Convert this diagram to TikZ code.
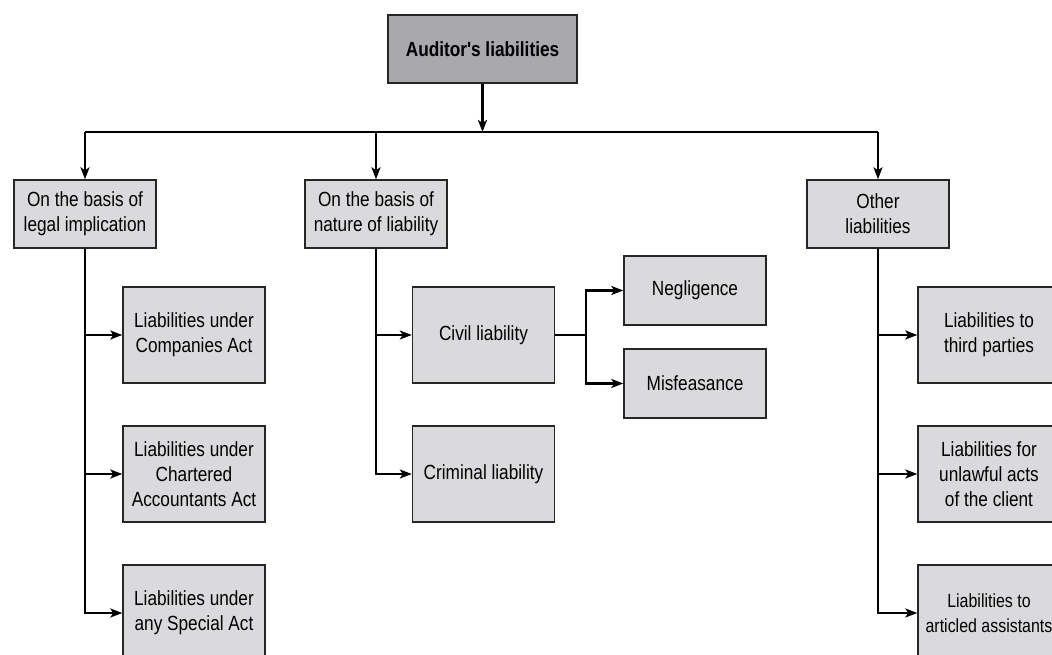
\documentclass[tikz,border=0pt]{standalone}
\usepackage{fontspec}
\usetikzlibrary{arrows.meta}
\newfontfamily\condfont[FakeStretch=0.84]{Liberation Sans}
\definecolor{boxgray}{RGB}{218,218,221}
\definecolor{topgray}{RGB}{168,168,173}
\tikzset{
  box/.style={draw=black!85, line width=1.4pt, fill=boxgray, align=center,
    minimum width=142pt, minimum height=96pt, inner sep=1pt,
    font=\condfont\fontsize{20.5}{25}\selectfont},
  headbox/.style={box, minimum height=68pt},
  link/.style={line width=2.6pt, black},
  arr/.style={link, -{Stealth[length=12pt,width=9pt,inset=3pt]}}
}
\begin{document}
\begin{tikzpicture}[x=1pt,y=1pt]
\clip (0,0) rectangle (1052,655);
\useasboundingbox (0,0) rectangle (1052,655);
% top
\node[headbox, fill=topgray, minimum width=189pt, font=\condfont\bfseries\fontsize{20.5}{25}\selectfont] (auditor) at (482.5,606) {Auditor's liabilities};
\coordinate (bus) at (482.5,523);
% first level
\node[headbox] (legal) at (85,441) {On the basis of\\legal implication};
\node[headbox] (nature) at (376,441) {On the basis of\\nature of liability};
\node[headbox] (other) at (878,441) {Other\\liabilities};
\draw[link] (legal |- bus) -- (other |- bus);
\draw[arr] (auditor) -- (bus);
\draw[arr] (legal |- bus) -- (legal);
\draw[arr] (nature |- bus) -- (nature);
\draw[arr] (other |- bus) -- (other);
% legal implication
\node[box] (companies) at (194,320) {Liabilities under\\Companies Act};
\node[box] (chartered) at (194,181) {Liabilities under\\Chartered\\Accountants Act};
\node[box] (special) at (194,42) {Liabilities under\\any Special Act};
\draw[arr] (legal) |- (special);
\draw[arr] (legal |- companies) -- (companies);
\draw[arr] (legal |- chartered) -- (chartered);
% nature of liability
\node[box] (civil) at (483.5,320) {Civil liability};
\node[box] (criminal) at (483.5,181) {Criminal liability};
\node[headbox, minimum height=69pt] (negligence) at (695,364.5) {Negligence};
\node[headbox, minimum height=69pt] (misfeasance) at (695,271.5) {Misfeasance};
\draw[arr] (nature) |- (criminal);
\draw[arr] (nature |- civil) -- (civil);
\coordinate (split) at (586,320);
\draw[link] (civil) -- (split);
\draw[arr] (split) |- (negligence);
\draw[arr] (split) |- (misfeasance);
% other liabilities
\node[box] (third) at (989,320) {Liabilities to\\third parties};
\node[box] (unlawful) at (989,181) {Liabilities for\\unlawful acts\\of the client};
\node[box, font=\condfont\fontsize{19}{25}\selectfont] (articled) at (989,42) {Liabilities to\\articled assistants};
\draw[arr] (other) |- (articled);
\draw[arr] (other |- third) -- (third);
\draw[arr] (other |- unlawful) -- (unlawful);
\end{tikzpicture}
\end{document}
